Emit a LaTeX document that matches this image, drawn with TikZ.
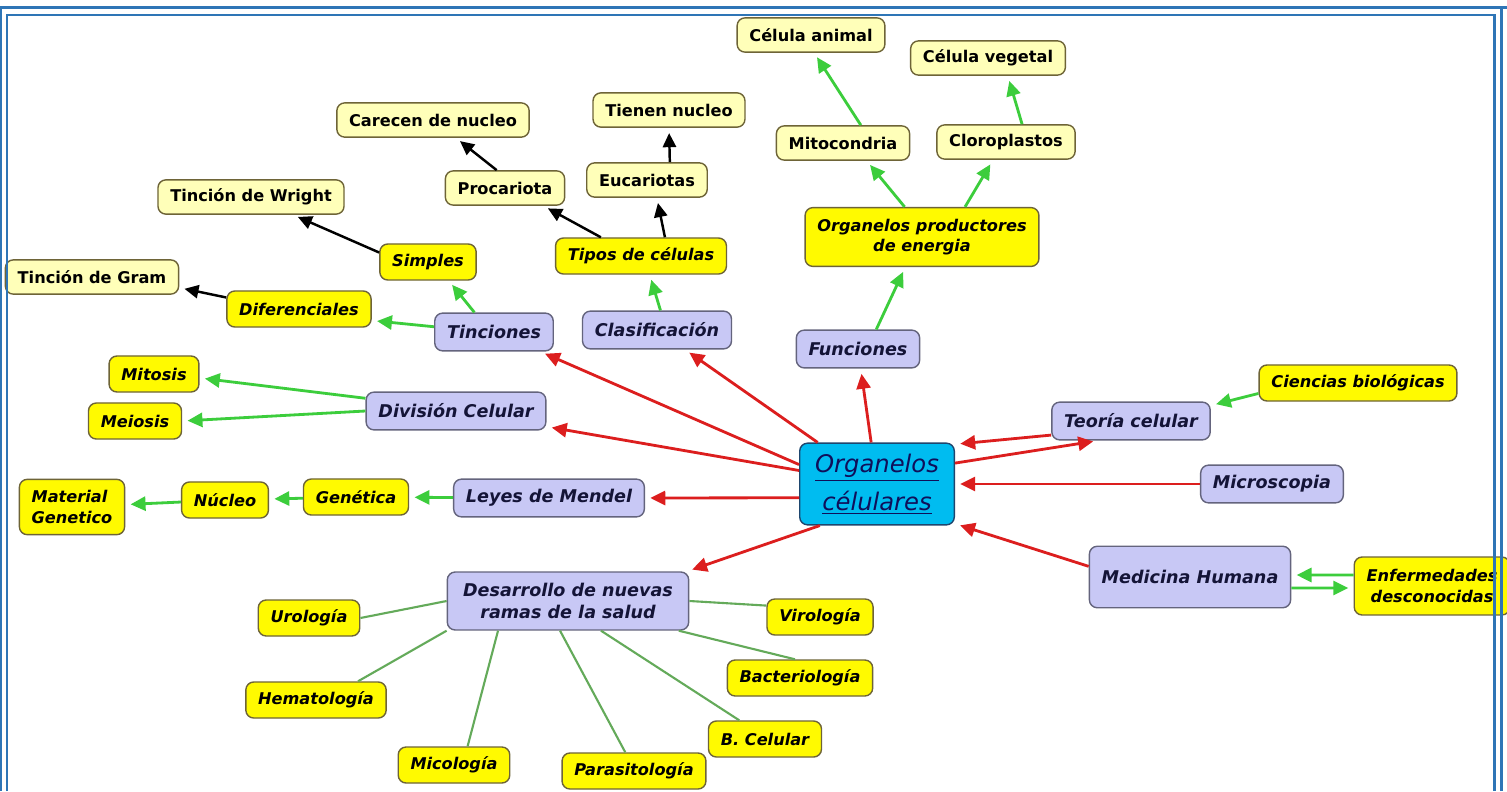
\documentclass[tikz,border=0pt]{standalone}
\usepackage{fontspec}
\setmainfont{DejaVu Sans}[BoldFont={DejaVu Sans Bold},ItalicFont={DejaVu Sans Oblique},BoldItalicFont={DejaVu Sans Bold Oblique}]
\usetikzlibrary{arrows.meta}

\definecolor{frameblue}{RGB}{46,117,182}
\definecolor{paleyel}{RGB}{255,255,185}
\definecolor{brightyel}{RGB}{255,250,0}
\definecolor{boxedge}{RGB}{110,100,55}
\definecolor{lav}{RGB}{200,200,245}
\definecolor{lavedge}{RGB}{100,100,125}
\definecolor{lavtext}{RGB}{20,20,55}
\definecolor{hubcyan}{RGB}{0,188,240}
\definecolor{hubedge}{RGB}{30,70,110}
\definecolor{hubtext}{RGB}{15,15,90}
\definecolor{redline}{RGB}{220,30,30}
\definecolor{greenline}{RGB}{60,205,60}
\definecolor{leafgreen}{RGB}{100,170,90}

\begin{document}
\begin{tikzpicture}
[x=0.02cm,y=-0.02cm,
 every node/.style={rounded corners=4.5pt,inner xsep=7pt,inner ysep=2pt,line width=0.8pt},
 palebox/.style={draw=boxedge,fill=paleyel,font=\fontsize{9.2}{11.5}\selectfont\bfseries,minimum height=19.5pt},
 brightbox/.style={draw=boxedge,fill=brightyel,font=\fontsize{9.2}{11.5}\selectfont\bfseries\itshape,minimum height=20.5pt},
 lavbox/.style={draw=lavedge,fill=lav,text=lavtext,font=\fontsize{10}{12.5}\selectfont\bfseries\itshape,minimum height=21.5pt},
 hub/.style={draw=hubedge,fill=hubcyan,text=hubtext,font=\fontsize{13.8}{21.5}\selectfont\itshape,minimum width=88pt,minimum height=46.5pt,align=center},
 redarr/.style={draw=redline,line width=1.6pt,-{Triangle[length=8.5pt,width=8pt]},shorten >=3pt},
 greenarr/.style={draw=greenline,line width=1.6pt,-{Triangle[length=8.5pt,width=8pt]},shorten >=3pt},
 blackarr/.style={draw=black,line width=1.4pt,-{Triangle[length=8pt,width=7.5pt]},shorten >=3pt},
 leafline/.style={draw=leafgreen,line width=1.2pt}]
\useasboundingbox (0,0) rectangle (1507,791);
\fill[white] (0,0) rectangle (1507,791);

\node[palebox] (celani) at (811,35) {Célula animal};
\node[palebox] (celveg) at (988,58) {Célula vegetal};
\node[palebox] (carec) at (433,120) {Carecen de nucleo};
\node[palebox] (tien) at (669,110) {Tienen nucleo};
\node[palebox] (mito) at (843,143) {Mitocondria};
\node[palebox] (cloro) at (1006,142) {Cloroplastos};
\node[palebox] (proc) at (505,188) {Procariota};
\node[palebox] (euc) at (647,180) {Eucariotas};
\node[palebox] (wright) at (251,197) {Tinción de Wright};
\node[brightbox,align=center,minimum height=33.5pt] (prod) at (922,237) {Organelos productores\\de energia};
\node[brightbox] (simp) at (428,262) {Simples};
\node[brightbox] (tipos) at (641,256) {Tipos de células};
\node[palebox] (gram) at (92,277) {Tinción de Gram};
\node[brightbox] (dif) at (299,309) {Diferenciales};
\node[lavbox] (tinc) at (494,332) {Tinciones};
\node[lavbox] (clas) at (657,330) {Clasificación};
\node[lavbox] (func) at (858,349) {Funciones};
\node[brightbox] (mitos) at (154,374) {Mitosis};
\node[brightbox] (cien) at (1358,383) {Ciencias biológicas};
\node[lavbox] (div) at (456,411) {División Celular};
\node[brightbox] (meios) at (135,421) {Meiosis};
\node[lavbox] (teo) at (1131,421) {Teoría celular};
\node[hub] (org) at (877,484) {\underline{Organelos}\\\underline{célulares}};
\node[lavbox] (micro) at (1272,484) {Microscopia};
\node[brightbox,align=left,minimum height=31.5pt] (mat) at (72,507) {Material\\Genetico};
\node[brightbox] (nuc) at (225,500) {Núcleo};
\node[brightbox] (gen) at (356,497) {Genética};
\node[lavbox] (leyes) at (549,498) {Leyes de Mendel};
\node[lavbox,minimum height=35pt] (medi) at (1190,577) {Medicina Humana};
\node[brightbox,align=center,minimum height=33pt] (enf) at (1432,586) {Enfermedades\\desconocidas};
\node[lavbox,align=center,minimum height=33pt,inner xsep=9pt] (desa) at (568,601) {Desarrollo de nuevas\\ramas de la salud};
\node[brightbox] (uro) at (309,618) {Urología};
\node[brightbox] (viro) at (820,617) {Virología};
\node[brightbox] (bact) at (800,678) {Bacteriología};
\node[brightbox] (hema) at (316,700) {Hematología};
\node[brightbox] (bcel) at (765,739) {B. Celular};
\node[brightbox] (mico) at (454,765) {Micología};
\node[brightbox] (para) at (634,771) {Parasitología};

% red links round the hub
\foreach \from/\to in {org.166/tinc.337,org/clas,org/func,org/div,org.190/leyes.east,org.216/desa.14,org.15/teo.211,teo.190/org.27,micro/org,medi.174/org.333}
  \draw[redarr] (\from) -- (\to);
% green links
\foreach \from/\to in {prod.120/mito.323,prod.35/cloro.234,mito.45/celani.280,cloro.48/celveg.318,func.47/prod.241,clas.80/tipos.295,tinc.135/simp.318,tinc.175/dif.351,div.172/mitos.355,div.west/meios.east,leyes/gen,gen/nuc,nuc/mat,cien.186/teo.11}
  \draw[greenarr] (\from) -- (\to);
\draw[greenarr] ([yshift=0.22cm]enf.west) -- ([yshift=0.04cm]medi.east);
\draw[greenarr] ([yshift=-0.22cm]medi.east) -- ([yshift=-0.04cm]enf.west);
% black links
\foreach \from/\to in {tipos.155/proc.335,tipos.38/euc.299,proc.115/carec.322,euc.38/tien.south,simp.169/wright.337,dif.171/gram.353}
  \draw[blackarr] (\from) -- (\to);
% health branches
\foreach \from/\to in {desa.west/uro.east,desa.south west/hema.24,desa.203/mico.54,desa.255/para.115,desa.318/bcel.144,desa.345/bact.105,desa.east/viro.168}
  \draw[leafline] (\from) -- (\to);

% frame
\draw[frameblue,line width=1.7pt] (1,791) -- (1,7.5) -- (1507,7.5) (1501.5,7.5) -- (1501.5,791);
\draw[frameblue,line width=1.6pt] (7,791) -- (7,15) -- (1494.5,15) -- (1494.5,791);
\end{tikzpicture}
\end{document}
